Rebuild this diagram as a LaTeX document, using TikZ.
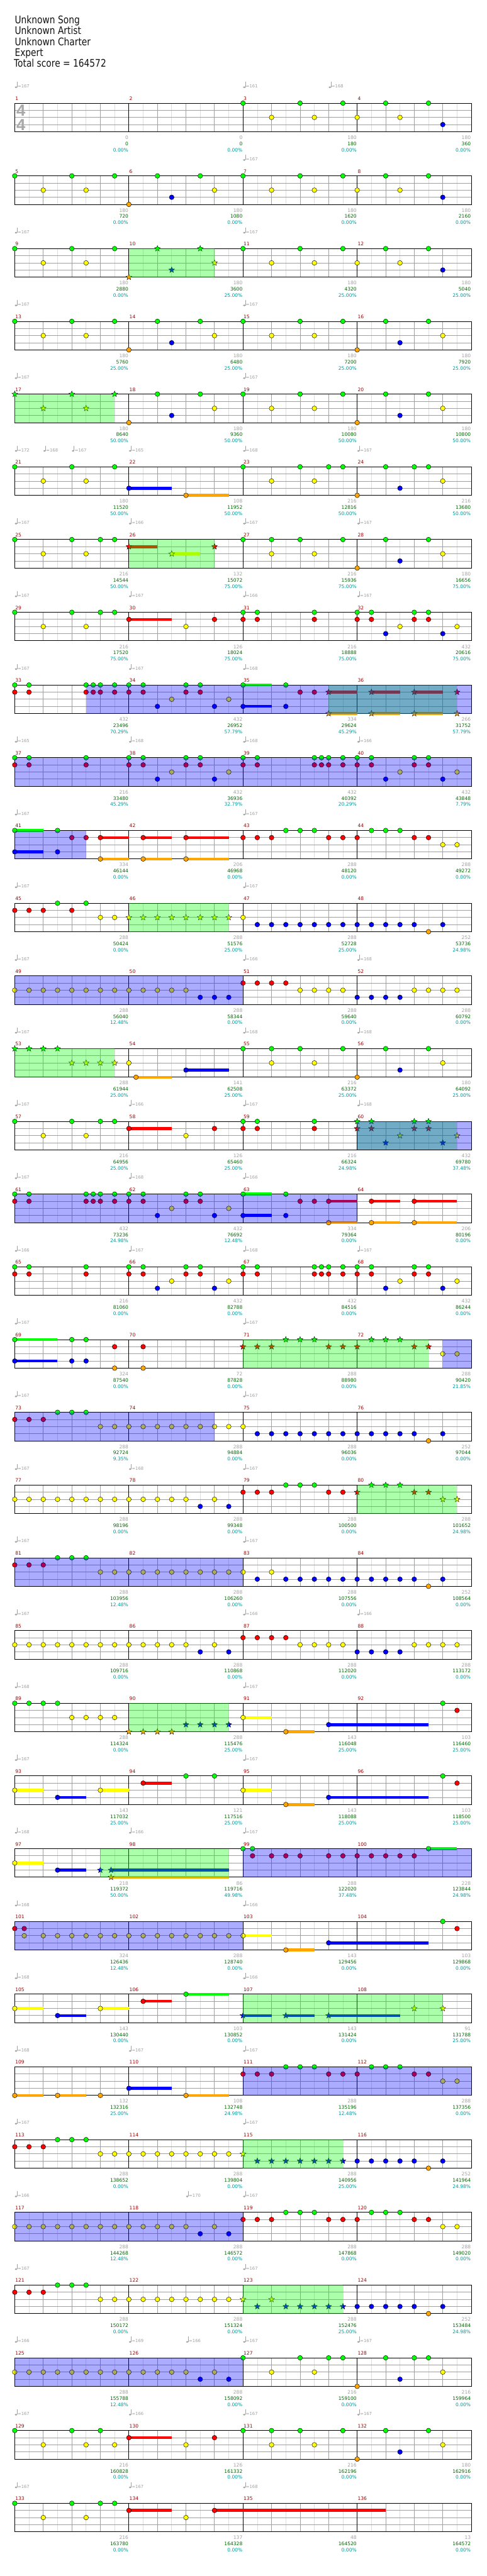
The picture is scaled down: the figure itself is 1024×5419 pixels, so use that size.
\documentclass[tikz,border=0pt]{standalone}
\usepackage{fontspec}
\setmainfont{DejaVu Sans}
\newfontfamily\hfam[FakeStretch=0.83]{DejaVu Sans}
\newfontfamily\tsfam{Liberation Sans}
\newcommand\hfont{\hfam\fontsize{22}{24}\selectfont}
\newcommand\sfont{\fontsize{10}{12}\selectfont}
\newcommand\tfont{\fontsize{9}{11}\selectfont}
\definecolor{nG}{HTML}{00FF00}
\definecolor{nR}{HTML}{FF0000}
\definecolor{nY}{HTML}{FFFF00}
\definecolor{nB}{HTML}{0000FF}
\definecolor{nO}{HTML}{FFA500}
\definecolor{lgridc}{HTML}{DDDDDD}
\definecolor{dgridc}{HTML}{A0A0A0}
\definecolor{tgray}{HTML}{A0A0A0}
\definecolor{sgray}{HTML}{A0A0A0}
\definecolor{mred}{HTML}{990000}
\definecolor{cgreen}{HTML}{006400}
\definecolor{pteal}{HTML}{009999}
\definecolor{tsgray}{HTML}{A8A8A8}
\tikzset{
 lgrid/.style={draw=lgridc,line width=1.1pt},
 dgrid/.style={draw=dgridc,line width=1.1pt},
 bline/.style={draw=black,line width=1.2pt},
 mnum/.style={anchor=base west,inner sep=0,xshift=1pt,yshift=6pt,text=mred,font=\sfont},
 scA/.style={anchor=base east,inner sep=0,xshift=-1pt,yshift=-76pt,text=sgray,font=\sfont},
 scB/.style={anchor=base east,inner sep=0,xshift=-1pt,yshift=-89pt,text=cgreen,font=\sfont},
 scC/.style={anchor=base east,inner sep=0,xshift=-1pt,yshift=-102pt,text=pteal,font=\sfont},
 hdr/.style={anchor=base west,inner sep=0,text=black!93,font=\hfont}
}
\newcommand\Staff{%
 \foreach \q in {2,6,...,62} \draw[lgrid] (\q,0) -- (\q,4);
 \foreach \q in {4,8,12,20,24,28,36,40,44,52,56,60} \draw[dgrid] (\q,0) -- (\q,4);
 \foreach \l in {1,2,3} \draw[dgrid] (0,\l) -- (64,\l);
 \foreach \q in {16,32,48} \draw[bline] (\q,0) -- (\q,4);
 \draw[bline] (0,0) rectangle (64,4);}
\newcommand\Row[2]{%
 \begin{scope}[shift={(31pt,{-(217+153*(#1-1))*1pt})},x=15pt,y=-15pt]
 \Staff
 #2
 \end{scope}}
\newcommand\lanen[3]{\foreach \q in {#3}{\filldraw[fill=#2,draw=black,line width=0.6pt] (\q,#1) circle[radius=5pt];}}
\newcommand\lanes[3]{\foreach \q in {#3}{\filldraw[fill=#2,draw=black,line width=0.5pt,shift={(\q,#1)}] (90:6.5pt) -- (126:2.8pt) -- (162:6.5pt) -- (198:2.8pt) -- (234:6.5pt) -- (270:2.8pt) -- (306:6.5pt) -- (342:2.8pt) -- (18:6.5pt) -- (54:2.8pt) -- cycle;}}
\newcommand\tail[4]{\draw[line width=6pt,#2] (#3,#1) -- (#4,#1);}
\newcommand\nG[1]{\lanen{0}{nG}{#1}}
\newcommand\nR[1]{\lanen{1}{nR}{#1}}
\newcommand\nY[1]{\lanen{2}{nY}{#1}}
\newcommand\nB[1]{\lanen{3}{nB}{#1}}
\newcommand\nO[1]{\lanen{4}{nO}{#1}}
\newcommand\sG[1]{\lanes{0}{nG}{#1}}
\newcommand\sR[1]{\lanes{1}{nR}{#1}}
\newcommand\sY[1]{\lanes{2}{nY}{#1}}
\newcommand\sB[1]{\lanes{3}{nB}{#1}}
\newcommand\sO[1]{\lanes{4}{nO}{#1}}
\newcommand\tG[2]{\tail{0}{nG}{#1}{#2}}
\newcommand\tR[2]{\tail{1}{nR}{#1}{#2}}
\newcommand\tY[2]{\tail{2}{nY}{#1}{#2}}
\newcommand\tB[2]{\tail{3}{nB}{#1}{#2}}
\newcommand\tO[2]{\tail{4}{nO}{#1}{#2}}
\newcommand\SPg[2]{\fill[nG,opacity=0.33] (#1,0) rectangle (#2,4);}
\newcommand\SPb[2]{\fill[nB,opacity=0.33] (#1,0) rectangle (#2,4);}
\newcommand\Tm[2]{%
 \fill[tgray] (#1,0) ++(2.6pt,33.5pt) ellipse (2.6pt and 1.9pt);
 \draw[tgray,line width=0.9pt] (#1,0) ++(4.8pt,33.5pt) -- ++(0pt,11pt);
 \node[anchor=base west,inner sep=0,xshift=6pt,yshift=32pt,text=tgray,font=\tfont] at (#1,0) {=#2};}
\newcommand\Meas[5]{%
 \node[mnum] at (16*#1,0) {#2};
 \node[scA] at (16*#1+16,0) {#3};
 \node[scB] at (16*#1+16,0) {#4};
 \node[scC] at (16*#1+16,0) {#5\%};}
\begin{document}
\begin{tikzpicture}[x=1pt,y=-1pt]
\useasboundingbox[fill=white] (0,0) rectangle (1024,5419);
\node[hdr] (h1) at (31,50) {Unknown Song};
\node[hdr] (h2) at (31,72.7) {Unknown Artist};
\node[hdr] (h3) at (31,95.5) {Unknown Charter};
\node[hdr] (h4) at (31,118.3) {Expert};
\node[hdr] (h5) at (29,141.5) {Total score = 164572};
% row 1
\Row{1}{
 \nG{32,40,46,52,58}\nY{36,42,48,54}\nB{60}
 \Tm{0}{167}\Tm{32}{161}\Tm{44}{168}
 \Meas{0}{1}{0}{0}{0.00}\Meas{1}{2}{0}{0}{0.00}\Meas{2}{3}{180}{180}{0.00}\Meas{3}{4}{180}{360}{0.00}
}
\node[text=tsgray,font=\tsfam\bfseries\fontsize{34}{34}\selectfont,inner sep=0] (ts1) at (44,232.5) {4};
\node[text=tsgray,font=\tsfam\bfseries\fontsize{34}{34}\selectfont,inner sep=0] (ts2) at (44,262.5) {4};
% row 2
\Row{2}{
 \nG{0,8,14,20,26,32,40,46,52,58}\nY{4,10,28,36,42,48,54}\nO{16}\nB{22,60}
 \Tm{32}{167}
 \Meas{0}{5}{180}{720}{0.00}\Meas{1}{6}{180}{1080}{0.00}\Meas{2}{7}{180}{1620}{0.00}\Meas{3}{8}{180}{2160}{0.00}
}
% row 3
\Row{3}{
 \nG{0,8,14,32,40,46,52,58}\nY{4,10,36,42,48,54}\nB{60}
 \sG{20,26}\sY{28}\sB{22}\sO{16}
 \SPg{16}{28}
 \Tm{0}{167}\Tm{32}{167}
 \Meas{0}{9}{180}{2880}{0.00}\Meas{1}{10}{180}{3600}{25.00}\Meas{2}{11}{180}{4320}{25.00}\Meas{3}{12}{180}{5040}{25.00}
}
% row 4
\Row{4}{
 \nG{0,8,14,20,26,32,40,46,52,58}\nY{4,10,28,36,42,60}\nO{16,48}\nB{22,54}
 \Tm{0}{167}\Tm{32}{167}
 \Meas{0}{13}{180}{5760}{25.00}\Meas{1}{14}{180}{6480}{25.00}\Meas{2}{15}{180}{7200}{25.00}\Meas{3}{16}{180}{7920}{25.00}
}
% row 5
\Row{5}{
 \sG{0,8,14}\sY{4,10}
 \nG{20,26,32,40,46,52,58}\nY{28,36,42,60}\nO{16,48}\nB{22,54}
 \SPg{0}{14}
 \Tm{0}{167}\Tm{32}{167}
 \Meas{0}{17}{180}{8640}{50.00}\Meas{1}{18}{180}{9360}{50.00}\Meas{2}{19}{180}{10080}{50.00}\Meas{3}{20}{180}{10800}{50.00}
}
% row 6
\Row{6}{
 \tB{16}{22}\tO{24}{30}
 \nG{0,8,14,32,40,44,46,52,56,58}\nY{4,10,36,42,60}\nB{16,54}\nO{24,48}
 \Tm{0}{172}\Tm{4}{168}\Tm{8}{167}\Tm{16}{165}\Tm{32}{168}\Tm{48}{167}
 \Meas{0}{21}{180}{11520}{50.00}\Meas{1}{22}{108}{11952}{50.00}\Meas{2}{23}{216}{12816}{50.00}\Meas{3}{24}{216}{13680}{50.00}
}
% row 7
\Row{7}{
 \tR{16}{20}\tY{22}{26}
 \nG{0,8,12,14,32,36,40,46,52,58}\nY{4,10,36,42,60}\nO{48}\nB{54}
 \sR{16,28}\sY{22}
 \SPg{16}{28}
 \Tm{0}{167}\Tm{16}{166}\Tm{32}{167}\Tm{48}{167}
 \Meas{0}{25}{216}{14544}{50.00}\Meas{1}{26}{132}{15072}{75.00}\Meas{2}{27}{216}{15936}{75.00}\Meas{3}{28}{180}{16656}{75.00}
}
% row 8
\Row{8}{
 \tR{16}{22}
 \nG{0,8,12,14,32,34,42,48,50,56,58}\nR{16,28,32,34,42,48,50,56,58}\nY{4,10,24,54,62}\nB{52,60}
 \Tm{0}{167}\Tm{16}{167}\Tm{32}{166}\Tm{48}{167}
 \Meas{0}{29}{216}{17520}{75.00}\Meas{1}{30}{126}{18024}{75.00}\Meas{2}{31}{216}{18888}{75.00}\Meas{3}{32}{432}{20616}{75.00}
}
% row 9
\Row{9}{
 \tG{32}{36}\tB{32}{36}\tR{44}{48}\tR{50}{54}\tR{56}{60}\tO{44}{48}\tO{50}{54}\tO{56}{60}
 \nG{0,2,10,11,12,14,16,18,24,26,32,38}\nR{0,2,10,11,12,14,16,18,24,26,40,42}\nY{22,30}\nB{20,28,32,38}
 \sR{44,50,56,62}\sO{44,50,56,62}
 \SPg{44}{62}\SPb{10}{64}
 \Tm{0}{167}\Tm{16}{167}\Tm{32}{168}
 \Meas{0}{33}{432}{23496}{70.29}\Meas{1}{34}{432}{26952}{57.79}\Meas{2}{35}{334}{29624}{45.29}\Meas{3}{36}{266}{31752}{57.79}
}
% row 10
\Row{10}{
 \nG{0,2,10,16,18,24,26,32,34,42,43,44,46,48,50,56,58}\nR{0,2,10,16,18,24,26,32,34,42,43,44,46,48,50,56,58}\nY{22,30,54,62}\nB{20,28,52,60}
 \SPb{0}{64}
 \Tm{0}{165}\Tm{16}{168}\Tm{32}{168}\Tm{48}{166}
 \Meas{0}{37}{216}{33480}{45.29}\Meas{1}{38}{432}{36936}{32.79}\Meas{2}{39}{432}{40392}{20.29}\Meas{3}{40}{432}{43848}{7.79}
}
% row 11
\Row{11}{
 \tG{0}{4}\tB{0}{4}\tR{12}{16}\tR{18}{22}\tR{24}{30}\tO{12}{16}\tO{18}{22}\tO{24}{30}
 \nG{0,6,38,40,42,50,52,54}\nR{8,10,12,18,24,32,34,36,44,46,48,56,58}\nY{60,62}\nB{0,6}\nO{12,18,24}
 \SPb{0}{10}
 \Tm{0}{167}\Tm{32}{167}
 \Meas{0}{41}{334}{46144}{0.00}\Meas{1}{42}{206}{46968}{0.00}\Meas{2}{43}{288}{48120}{0.00}\Meas{3}{44}{288}{49272}{0.00}
}
% row 12
\Row{12}{
 \nR{0,2,4,8}\nG{6,10}\nY{12,14,32}\sY{16,18,20,22,24,26,28,30}\nB{34,36,...,56}\nB{60}\nO{58}
 \SPg{16}{30}
 \Tm{0}{167}\Tm{32}{167}
 \Meas{0}{45}{288}{50424}{0.00}\Meas{1}{46}{288}{51576}{25.00}\Meas{2}{47}{288}{52728}{25.00}\Meas{3}{48}{252}{53736}{24.98}
}
% row 13
\Row{13}{
 \nY{0,2,...,24}\nY{40,42,44,46,56,58,60,62}\nB{26,28,30,48,50,52,54}\nR{32,34,36,38}
 \SPb{0}{32}
 \Tm{0}{167}\Tm{32}{166}\Tm{48}{168}
 \Meas{0}{49}{288}{56040}{12.48}\Meas{1}{50}{288}{58344}{0.00}\Meas{2}{51}{288}{59640}{0.00}\Meas{3}{52}{288}{60792}{0.00}
}
% row 14
\Row{14}{
 \tO{17}{22}\tB{24}{30}
 \sG{0,2,4,6}\sY{8,10,12,14}
 \nY{16,36,42,60}\nO{17,48}\nB{24,54}\nG{32,36,40,46,52,58}
 \SPg{0}{14}
 \Tm{0}{167}\Tm{32}{168}\Tm{48}{168}
 \Meas{0}{53}{288}{61944}{25.00}\Meas{1}{54}{141}{62508}{25.00}\Meas{2}{55}{216}{63372}{25.00}\Meas{3}{56}{180}{64092}{25.00}
}
% row 15
\Row{15}{
 \tR{16}{22}
 \nG{0,8,12,14,32,34,42}\nY{4,10,24}\nR{16,28,32,34,42}
 \sG{48,50,56,58}\sR{48,50,56,58}\sY{54,62}\sB{52,60}
 \SPg{48}{62}\SPb{48}{64}
 \Tm{0}{167}\Tm{16}{166}\Tm{32}{167}\Tm{48}{168}
 \Meas{0}{57}{216}{64956}{25.00}\Meas{1}{58}{126}{65460}{25.00}\Meas{2}{59}{216}{66324}{24.98}\Meas{3}{60}{432}{69780}{37.48}
}
% row 16
\Row{16}{
 \tG{32}{36}\tB{32}{36}\tR{44}{48}\tR{50}{54}\tR{56}{62}\tO{44}{48}\tO{50}{54}\tO{56}{62}
 \nG{0,2,10,11,12,14,16,18,24,26,32,38}\nR{0,2,10,11,12,14,16,18,24,26,40,42,44,50,56}\nY{22,30}\nB{20,28,32,38}\nO{44,50,56}
 \SPb{0}{48}
 \Tm{0}{167}\Tm{16}{168}\Tm{32}{166}
 \Meas{0}{61}{432}{73236}{24.98}\Meas{1}{62}{432}{76692}{12.48}\Meas{2}{63}{334}{79364}{0.00}\Meas{3}{64}{206}{80196}{0.00}
}
% row 17
\Row{17}{
 \nG{0,2,10,16,18,24,26,32,34,42,43,44,46,48,50,56,58}\nR{0,2,10,16,18,24,26,32,34,42,43,44,46,48,50,56,58}\nY{22,30,54,62}\nB{20,28,52,60}
 \Tm{0}{166}\Tm{16}{167}\Tm{32}{168}\Tm{48}{167}
 \Meas{0}{65}{216}{81060}{0.00}\Meas{1}{66}{432}{82788}{0.00}\Meas{2}{67}{432}{84516}{0.00}\Meas{3}{68}{432}{86244}{0.00}
}
% row 18
\Row{18}{
 \tG{0}{6}\tB{0}{6}
 \nG{0,8,10}\nB{0,8,10}\nR{14,18}\nO{14,18}\nY{60,62}
 \sR{32,34,36,44,46,48,56,58}\sG{38,40,42,50,52,54}
 \SPg{32}{58}\SPb{60}{64}
 \Tm{0}{167}\Tm{32}{167}
 \Meas{0}{69}{324}{87540}{0.00}\Meas{1}{70}{72}{87828}{0.00}\Meas{2}{71}{288}{88980}{0.00}\Meas{3}{72}{288}{90420}{21.85}
}
% row 19
\Row{19}{
 \nR{0,2,4}\nG{6,8,10}\nY{12,14,...,32}\nB{34,36,...,56}\nB{60}\nO{58}
 \SPb{0}{28}
 \Tm{0}{167}\Tm{32}{167}
 \Meas{0}{73}{288}{92724}{9.35}\Meas{1}{74}{288}{94884}{0.00}\Meas{2}{75}{288}{96036}{0.00}\Meas{3}{76}{252}{97044}{0.00}
}
% row 20
\Row{20}{
 \nY{0,2,...,24}\nY{28}\nB{26,30}\nR{32,34,36,44,46}\nG{38,40,42}
 \sR{48,56,58}\sG{50,52,54}\sY{60,62}
 \SPg{48}{62}
 \Tm{0}{167}\Tm{16}{168}\Tm{32}{167}
 \Meas{0}{77}{288}{98196}{0.00}\Meas{1}{78}{288}{99348}{0.00}\Meas{2}{79}{288}{100500}{0.00}\Meas{3}{80}{288}{101652}{24.98}
}
% row 21
\Row{21}{
 \nR{0,2,4}\nG{6,8,10}\nY{12,14,...,32}\nY{36}\nB{34}\nB{38,40,...,56}\nB{60}\nO{58}
 \SPb{0}{32}
 \Tm{0}{167}\Tm{32}{167}
 \Meas{0}{81}{288}{103956}{12.48}\Meas{1}{82}{288}{106260}{0.00}\Meas{2}{83}{288}{107556}{0.00}\Meas{3}{84}{252}{108564}{0.00}
}
% row 22
\Row{22}{
 \nY{0,2,...,24}\nY{28,40,42,44,46,56,58,60,62}\nB{26,30,48,50,52,54}\nR{32,34,36,38}
 \Tm{0}{167}\Tm{32}{166}\Tm{48}{166}
 \Meas{0}{85}{288}{109716}{0.00}\Meas{1}{86}{288}{110868}{0.00}\Meas{2}{87}{288}{112020}{0.00}\Meas{3}{88}{288}{113172}{0.00}
}
% row 23
\Row{23}{
 \tY{32}{36}\tO{38}{42}\tB{44}{58}
 \nG{0,2,4,6,60}\nY{8,10,12,14,32}\sO{16,18,20,22}\sB{24,26,28,30}
 \nO{38}\nB{44}\nR{62}
 \SPg{16}{30}
 \Tm{0}{168}\Tm{32}{167}
 \Meas{0}{89}{288}{114324}{0.00}\Meas{1}{90}{288}{115476}{25.00}\Meas{2}{91}{143}{116048}{25.00}\Meas{3}{92}{103}{116460}{25.00}
}
% row 24
\Row{24}{
 \tY{0}{4}\tB{6}{10}\tY{12}{16}\tR{18}{22}\tY{32}{36}\tO{38}{42}\tB{44}{58}
 \nY{0,12,32}\nB{6,44}\nR{18,62}\nG{24,28,60}\nO{38}
 \Tm{0}{167}\Tm{32}{167}
 \Meas{0}{93}{143}{117032}{25.00}\Meas{1}{94}{121}{117516}{25.00}\Meas{2}{95}{143}{118088}{25.00}\Meas{3}{96}{103}{118500}{25.00}
}
% row 25
\Row{25}{
 \tY{0}{4}\tB{6}{10}\tB{13.5}{30}\tO{13.5}{30}\tG{58}{62}
 \nY{0}\nB{6}\sB{12,13.5}\sO{13.5}
 \nG{32,33.33,58}\nR{33.33,36,38,40,44,46,48,50,52,54,56}
 \SPg{12}{30}\SPb{32}{64}
 \Tm{0}{168}\Tm{16}{166}\Tm{32}{167}
 \Meas{0}{97}{218}{119372}{50.00}\Meas{1}{98}{86}{119716}{49.98}\Meas{2}{99}{288}{122020}{37.48}\Meas{3}{100}{228}{123844}{24.98}
}
% row 26
\Row{26}{
 \tY{32}{36}\tO{38}{42}\tB{44}{58}
 \nR{0,1.33,62}\nY{1.33}\nY{4,6,...,32}\nO{38}\nB{44}\nG{60}
 \SPb{0}{32}
 \Tm{0}{168}\Tm{32}{166}
 \Meas{0}{101}{324}{126436}{12.48}\Meas{1}{102}{288}{128740}{0.00}\Meas{2}{103}{143}{129456}{0.00}\Meas{3}{104}{103}{129868}{0.00}
}
% row 27
\Row{27}{
 \tY{0}{4}\tB{6}{10}\tY{12}{16}\tR{18}{22}\tG{24}{30}\tB{32}{36}\tB{38}{42}\tB{44}{54}
 \nY{0,12}\nB{6}\nR{18}\nG{24}\sB{32,38,44}\sY{56,60}
 \SPg{32}{60}
 \Tm{0}{168}\Tm{32}{166}
 \Meas{0}{105}{143}{130440}{0.00}\Meas{1}{106}{103}{130852}{0.00}\Meas{2}{107}{143}{131424}{0.00}\Meas{3}{108}{91}{131788}{25.00}
}
% row 28
\Row{28}{
 \tO{0}{4}\tO{6}{10}\tB{16}{22}\tO{24}{30}
 \nO{0,6,12,24}\nB{16}\nR{32,34,36,44,46,48,56,58}\nG{38,40,42,50,52,54}\nY{60,62}
 \SPb{32}{64}
 \Tm{0}{168}\Tm{16}{167}\Tm{32}{167}
 \Meas{0}{109}{132}{132316}{25.00}\Meas{1}{110}{108}{132748}{24.98}\Meas{2}{111}{288}{135196}{12.48}\Meas{3}{112}{288}{137356}{0.00}
}
% row 29
\Row{29}{
 \nR{0,2,4}\nG{6,8,10}\nY{12,14,...,30}\sY{32}\sB{34,36,...,46}\nB{48,50,...,56}\nB{60}\nO{58}
 \SPg{32}{46}
 \Tm{0}{167}\Tm{32}{167}
 \Meas{0}{113}{288}{138652}{0.00}\Meas{1}{114}{288}{139804}{0.00}\Meas{2}{115}{288}{140956}{25.00}\Meas{3}{116}{252}{141964}{24.98}
}
% row 30
\Row{30}{
 \nY{0,2,...,24}\nY{28,60,62}\nB{26,30}\nR{32,34,36,44,46,48,56,58}\nG{38,40,42,50,52,54}
 \SPb{0}{32}
 \Tm{0}{166}\Tm{24}{170}\Tm{32}{167}
 \Meas{0}{117}{288}{144268}{12.48}\Meas{1}{118}{288}{146572}{0.00}\Meas{2}{119}{288}{147868}{0.00}\Meas{3}{120}{288}{149020}{0.00}
}
% row 31
\Row{31}{
 \nR{0,2,4}\nG{6,8,10}\nY{12,14,...,30}\sY{32,36}\sB{34}\sB{38,40,...,46}\nB{48,50,...,56}\nB{60}\nO{58}
 \SPg{32}{46}
 \Tm{0}{167}\Tm{32}{167}
 \Meas{0}{121}{288}{150172}{0.00}\Meas{1}{122}{288}{151324}{0.00}\Meas{2}{123}{288}{152476}{25.00}\Meas{3}{124}{252}{153484}{24.98}
}
% row 32
\Row{32}{
 \nY{0,2,...,24}\nY{28,36,42,60}\nB{26,30,54}\nG{32,40,44,46,52,56,58}\nO{48}
 \SPb{0}{32}
 \Tm{0}{166}\Tm{16}{169}\Tm{24}{166}\Tm{32}{167}\Tm{48}{167}
 \Meas{0}{125}{288}{155788}{12.48}\Meas{1}{126}{288}{158092}{0.00}\Meas{2}{127}{216}{159100}{0.00}\Meas{3}{128}{216}{159964}{0.00}
}
% row 33
\Row{33}{
 \tR{16}{22}
 \nG{0,8,12,32,36,40,46,52,58}\nY{4,10,14,24,36,42,60}\nR{16,28}\nO{48}\nB{54}
 \Tm{0}{167}\Tm{16}{166}\Tm{32}{167}\Tm{48}{167}
 \Meas{0}{129}{216}{160828}{0.00}\Meas{1}{130}{126}{161332}{0.00}\Meas{2}{131}{216}{162196}{0.00}\Meas{3}{132}{180}{162916}{0.00}
}
% row 34
\Row{34}{
 \tR{16}{22}\tR{28}{52}
 \nG{0,8,12,14}\nY{4,10,24}\nR{16,28}
 \Tm{0}{167}\Tm{16}{167}\Tm{32}{168}
 \Meas{0}{133}{216}{163780}{0.00}\Meas{1}{134}{137}{164328}{0.00}\Meas{2}{135}{48}{164520}{0.00}\Meas{3}{136}{13}{164572}{0.00}
}
\end{tikzpicture}
\end{document}
